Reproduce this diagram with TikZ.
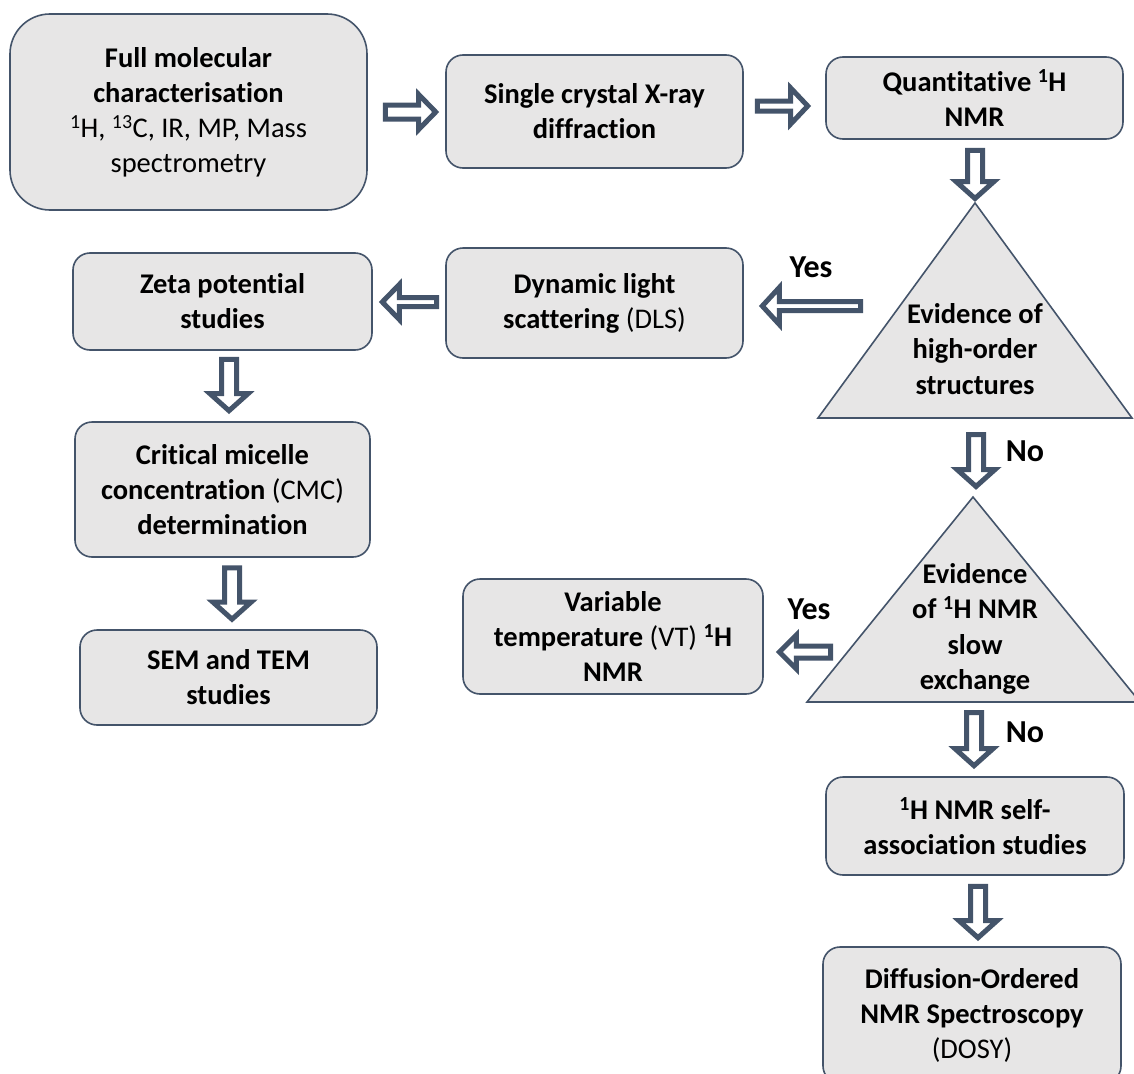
\documentclass[tikz,border=0pt]{standalone}
\usepackage{fontspec}
\setmainfont{Carlito}[Ligatures=NoCommon]
\usetikzlibrary{calc}
\definecolor{lineblue}{HTML}{44546A}
\definecolor{boxgray}{HTML}{E7E6E6}
\tikzset{
 box/.style={draw=lineblue, line width=1.6pt, fill=boxgray, rounded corners=17pt, align=center, inner sep=0pt, font=\fontsize{28.5}{35}\selectfont\bfseries},
 blockarr/.style={draw=lineblue, fill=white, line width=5pt, line join=miter},
 lbl/.style={font=\fontsize{32}{38}\selectfont\bfseries, inner sep=0pt},
 tri/.style={draw=lineblue, line width=1.6pt, fill=boxgray, line join=miter},
 tritext/.style={align=center, inner sep=0pt, font=\fontsize{28.5}{35.5}\selectfont\bfseries}
}
% hollow block arrows: #1 tail, #2 tip, #3 shaft half width, #4 head half width
\newcommand{\rarrow}[4]{\draw[blockarr] let \p1=#1, \p2=#2 in (\x1,\y1-#3) -- (\x2-17pt,\y1-#3) -- (\x2-17pt,\y1-#4) -- (\x2,\y1) -- (\x2-17pt,\y1+#4) -- (\x2-17pt,\y1+#3) -- (\x1,\y1+#3) -- cycle;}
\newcommand{\larrow}[4]{\draw[blockarr] let \p1=#1, \p2=#2 in (\x1,\y1-#3) -- (\x2+17pt,\y1-#3) -- (\x2+17pt,\y1-#4) -- (\x2,\y1) -- (\x2+17pt,\y1+#4) -- (\x2+17pt,\y1+#3) -- (\x1,\y1+#3) -- cycle;}
\newcommand{\darrow}[4]{\draw[blockarr] let \p1=#1, \p2=#2 in (\x1-#3,\y1) -- (\x1-#3,\y2+17pt) -- (\x1-#4,\y2+17pt) -- (\x1,\y2) -- (\x1+#4,\y2+17pt) -- (\x1+#3,\y2+17pt) -- (\x1+#3,\y1) -- cycle;}
\begin{document}
\begin{tikzpicture}[x=1pt,y=-1pt]
\useasboundingbox (0,0) rectangle (1134,1073);
\clip (0,0) rectangle (1134,1073);
\fill[white] (0,0) rectangle (1134,1073);

% boxes
\node[box, rounded corners=40pt, minimum width=357pt, minimum height=196pt] (full) at (188.5,112)
 {Full molecular\\characterisation\\{\mdseries \textsuperscript{1}H, \textsuperscript{13}C, IR, MP, Mass}\\{\mdseries spectrometry}};
\node[box, minimum width=297pt, minimum height=113pt] (scx) at (594.5,111.5) {Single crystal X-ray\\diffraction};
\node[box, minimum width=297pt, minimum height=82pt] (qnmr) at (974.5,98) {Quantitative \textsuperscript{1}H\\NMR};
\node[box, minimum width=297pt, minimum height=110pt] (dls) at (594.5,303) {Dynamic light\\scattering {\mdseries (DLS)}};
\node[box, minimum width=299pt, minimum height=97pt] (zeta) at (222.5,301.5) {Zeta potential\\studies};
\node[box, minimum width=295pt, minimum height=135pt] (cmc) at (222.5,489.5) {Critical micelle\\concentration {\mdseries (CMC)}\\determination};
\node[box, minimum width=297pt, minimum height=95pt] (sem) at (228.5,677.5) {SEM and TEM\\studies};
\node[box, minimum width=300pt, minimum height=115pt] (vt) at (613,636.5) {Variable\\temperature {\mdseries (VT)} \textsuperscript{1}H\\NMR};
\node[box, minimum width=298pt, minimum height=98pt] (self) at (975,826) {\textsuperscript{1}H NMR self-\\association studies};
\node[box, minimum width=298pt, minimum height=136pt] (dosy) at (972,1015) {Diffusion-Ordered\\NMR Spectroscopy\\{\mdseries (DOSY)}};

% triangles
\draw[tri] (975,203) coordinate (t1apex) -- (1132,418) -- (818,418) -- cycle;
\node[tritext] (t1) at (975,349) {Evidence of\\high-order\\structures};
\draw[tri] (973,497) coordinate (t2apex) -- (1140,702) -- (807,702) -- cycle;
\node[tritext] (t2) at (975,629) {Evidence\\of \textsuperscript{1}H NMR\\slow\\exchange};

% labels
\node[lbl] (yes1) at (811,267) {Yes};
\node[lbl] (no1) at (1025,451) {No};
\node[lbl] (yes2) at (809,609) {Yes};
\node[lbl] (no2) at (1025,732) {No};

% arrows
\rarrow{($(full.east)+(17.5,0)$)}{($(scx.west)+(-9.5,0)$)}{7pt}{17.5pt}
\rarrow{($(scx.east)+(13.5,-5.5)$)}{($(qnmr.west)+(-17.5,-5.5)$)}{5pt}{18pt}
\darrow{($(qnmr.south)+(0.5,10.5)$)}{($(t1apex)+(0,-4.5)$)}{7.5pt}{19pt}
\larrow{($(t1apex)+(-114.5,103)$)}{($(dls.east)+(18.5,3)$)}{4.5pt}{18.5pt}
\larrow{($(dls.west)+(-8.5,-1)$)}{($(zeta.east)+(9.5,0.5)$)}{4.5pt}{17.5pt}
\darrow{($(zeta.south)+(6.5,8.5)$)}{($(cmc.north)+(6.5,-10.5)$)}{7.5pt}{19pt}
\darrow{($(cmc.south)+(9.5,10)$)}{($(sem.north)+(3.5,-10)$)}{7.5pt}{19pt}
\darrow{($(t1apex)+(1,231.5)$)}{($(t2apex)+(3,-10.5)$)}{7.5pt}{19pt}
\larrow{($(t2apex)+(-142.5,155)$)}{($(vt.east)+(15.5,15.5)$)}{6pt}{17pt}
\darrow{($(t2apex)+(1,215.5)$)}{($(self.north)+(-1,-10.5)$)}{7.5pt}{19pt}
\darrow{($(self.south)+(3,10.5)$)}{($(dosy.north)+(6,-8.5)$)}{7.5pt}{19pt}
\end{tikzpicture}
\end{document}
